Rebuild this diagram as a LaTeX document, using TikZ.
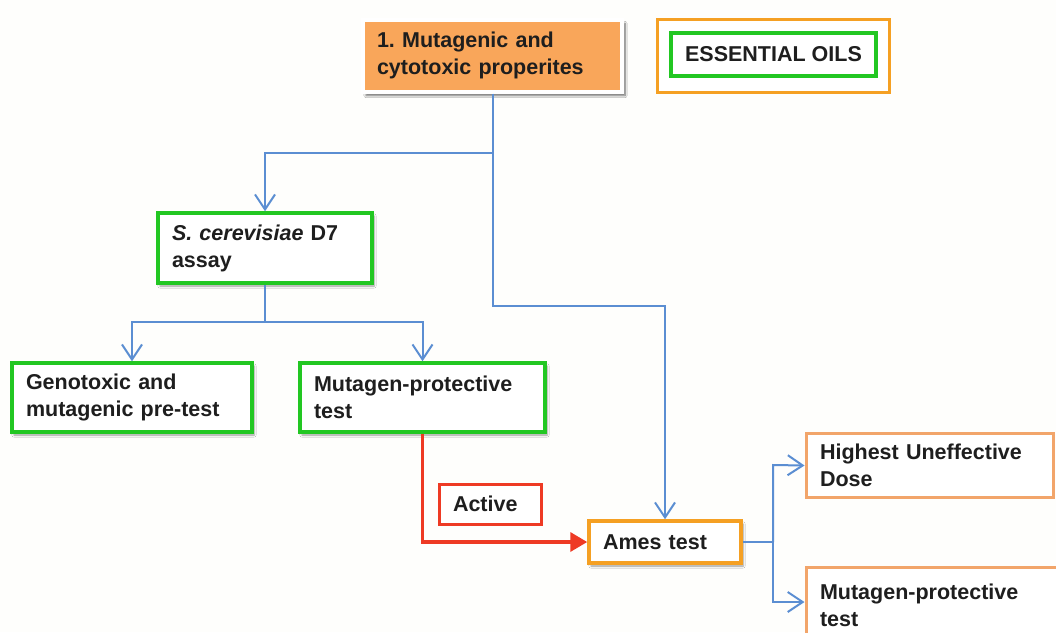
\documentclass[tikz,border=0pt]{standalone}
\usepackage{fontspec}
\setmainfont{Liberation Sans}
\usetikzlibrary{arrows.meta,shadows.blur}
\definecolor{cgreen}{HTML}{22C722}
\definecolor{corange}{HTML}{F5A023}
\definecolor{clorange}{HTML}{F2A56A}
\definecolor{cfill}{HTML}{F9A65A}
\definecolor{cblue}{HTML}{5B8ED2}
\definecolor{cred}{HTML}{EE3A24}
\definecolor{ctext}{HTML}{1E1E1E}
\definecolor{cbg}{HTML}{FEFEFC}
\frenchspacing
\tikzset{
  base/.style={font=\bfseries\fontsize{21.5}{27}\selectfont, align=left, inner xsep=14pt, inner ysep=0pt, text=ctext},
  shad/.style={blur shadow={shadow blur steps=6, shadow xshift=2pt, shadow yshift=-3pt, shadow opacity=40}},
  gbox/.style={base, draw=cgreen, line width=3.5pt, fill=white},
  obox/.style={base, draw=corange, line width=3.5pt, fill=white},
  lobox/.style={base, draw=clorange, line width=3pt, fill=white},
  rbox/.style={base, draw=cred, line width=3pt, fill=white},
  topbox/.style={base, draw=white, line width=4pt, fill=cfill},
  conn/.style={draw=cblue, line width=2pt, -{Straight Barb[length=15pt,width=20pt,line width=2pt]}},
  line/.style={draw=cblue, line width=2pt},
  redconn/.style={draw=cred, line width=3.5pt, -{Triangle[length=17pt,width=19pt]}}
}
\begin{document}
\begin{tikzpicture}[x=1pt,y=-1pt]
\fill[cbg] (0,0) rectangle (1056,632);
\useasboundingbox (0,0) rectangle (1056,632);

\node[topbox, blur shadow={shadow blur steps=8, shadow xshift=3pt, shadow yshift=-4pt, shadow opacity=60}, minimum height=72pt, text width=231pt] (top) at (492.5,55.5) {1. Mutagenic and\\cytotoxic properites};
\node[draw=corange, line width=3pt, fill=white, minimum width=232pt, minimum height=73pt, inner sep=0pt] (eoout) at (773,55.5) {};
\node[base, align=center, draw=cgreen, line width=3.5pt, minimum width=205pt, minimum height=43pt, inner sep=0pt] (eo) at (773.5,54.5) {ESSENTIAL OILS};

\node[gbox, shad, minimum height=70pt, text width=186pt] (scer) at (265,248) {\textit{S. cerevisiae} D7\\assay};
\node[gbox, shad, minimum height=69pt, text width=212pt] (geno) at (132,397.5) {Genotoxic and\\mutagenic pre-test};
\node[gbox, shad, minimum height=69pt, text width=217pt] (mut) at (422.5,397.5) {Mutagen-protective\\test};
\node[rbox, minimum height=40pt, text width=74pt] (active) at (490,504) {Active};
\node[obox, shad, minimum height=42pt, text width=124pt] (ames) at (665,542) {Ames test};
\node[lobox, minimum height=64pt, text width=219pt] (hud) at (929.5,465.5) {Highest Uneffective\\Dose};
\node[lobox, minimum height=76pt, text width=236pt] (mut2) at (938,605.5) {Mutagen-protective\\test};

\coordinate (j1) at (top.south |- 0,153);
\coordinate (j2) at (scer.south |- 0,322);
\coordinate (j3) at (ames.east -| 773,0);

\draw[line] (top.south) -- (j1);
\draw[conn] (j1) -- (scer.north |- j1) -- (scer.north);
\draw[conn] (j1) -- (j1 |- 0,306) -- (ames.north |- 0,306) -- (ames.north);
\draw[line] (scer.south) -- (j2);
\draw[conn] (j2) -- (geno.north |- j2) -- (geno.north);
\draw[conn] (j2) -- (mut.north |- j2) -- (mut.north);
\draw[redconn] (mut.south) -- (mut.south |- ames.west) -- (ames.west);
\draw[line] (ames.east) -- (j3);
\draw[conn] (j3) -- (773,465) -- (hud.west);
\draw[conn] (j3) -- (773,602) -- (mut2.west |- 773,602);
\end{tikzpicture}
\end{document}
